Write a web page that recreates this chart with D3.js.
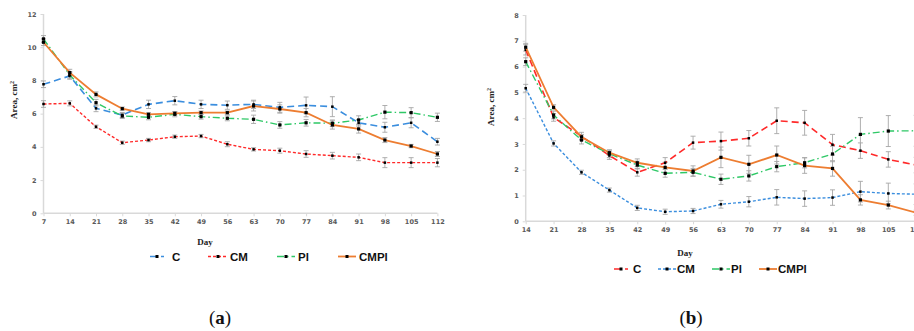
<!DOCTYPE html>
<html>
<head>
<meta charset="utf-8">
<script src="https://cdn.jsdelivr.net/npm/d3@7"></script>
<style>
  body { margin: 0; background: #fff; }
  svg { display: block; }
  .tick text { font-family: "DejaVu Sans", sans-serif; font-weight: bold; font-size: 6.5px; fill: #595959; }
  .axis-title { font-family: "Liberation Serif", serif; font-weight: bold; font-size: 9px; fill: #222; }
  .legend text { font-family: "Liberation Sans", sans-serif; font-weight: bold; font-size: 11.5px; fill: #111; }
  .caption { font-family: "Liberation Serif", serif; font-size: 19px; fill: #111; }
</style>
</head>
<body>
<svg id="chart" width="914" height="331"></svg>
<script>
// panel (a): days 7..112
const daysA = [7, 14, 21, 28, 35, 42, 49, 56, 63, 70, 77, 84, 91, 98, 105, 112];
const cA    = [7.77, 8.27, 6.32, 5.92, 6.56, 6.78, 6.56, 6.51, 6.56, 6.38, 6.50, 6.42, 5.45, 5.18, 5.45, 4.31];
const cmA   = [6.58, 6.62, 5.21, 4.25, 4.41, 4.61, 4.65, 4.16, 3.85, 3.77, 3.57, 3.47, 3.37, 3.05, 3.05, 3.05];
const plA   = [10.5, 8.33, 6.66, 5.86, 5.78, 5.96, 5.82, 5.72, 5.66, 5.32, 5.45, 5.42, 5.62, 6.09, 6.06, 5.78];
const cmplA = [10.3, 8.47, 7.16, 6.30, 5.96, 6.02, 6.06, 6.06, 6.46, 6.28, 6.06, 5.32, 5.08, 4.41, 4.05, 3.57];
const cAErr    = [0.2, 0.2, 0.2, 0.15, 0.25, 0.25, 0.25, 0.25, 0.25, 0.3, 0.5, 0.6, 0.2, 0.3, 0.3, 0.2];
const cmAErr   = [0.2, 0.15, 0.1, 0.1, 0.1, 0.1, 0.1, 0.15, 0.1, 0.15, 0.2, 0.2, 0.2, 0.3, 0.3, 0.25];
const plAErr   = [0.2, 0.2, 0.2, 0.15, 0.15, 0.15, 0.15, 0.15, 0.25, 0.2, 0.2, 0.2, 0.25, 0.4, 0.3, 0.25];
const cmplAErr = [0.2, 0.2, 0.15, 0.1, 0.1, 0.1, 0.1, 0.1, 0.3, 0.25, 0.25, 0.25, 0.25, 0.15, 0.1, 0.15];
const yTicksA = [0, 2, 4, 6, 8, 10, 12];

// panel (b): days 14..112
const daysB = [14, 21, 28, 35, 42, 49, 56, 63, 70, 77, 84, 91, 98, 105, 112];
const cB    = [6.65, 4.03, 3.30, 2.55, 1.90, 2.27, 3.05, 3.11, 3.22, 3.90, 3.82, 2.97, 2.74, 2.40, 2.18];
const cmB   = [5.16, 3.02, 1.90, 1.21, 0.52, 0.37, 0.40, 0.66, 0.76, 0.93, 0.88, 0.92, 1.15, 1.08, 1.05];
const plB   = [6.19, 4.12, 3.15, 2.62, 2.18, 1.86, 1.90, 1.63, 1.76, 2.12, 2.27, 2.61, 3.37, 3.50, 3.51];
const cmplB = [6.75, 4.42, 3.27, 2.66, 2.27, 2.09, 1.95, 2.48, 2.21, 2.57, 2.16, 2.05, 0.83, 0.63, 0.33];
const cBErr    = [0.2, 0.15, 0.15, 0.15, 0.15, 0.2, 0.25, 0.35, 0.3, 0.5, 0.48, 0.4, 0.3, 0.3, 0.3];
const cmBErr   = [0.15, 0.1, 0.08, 0.08, 0.1, 0.1, 0.1, 0.15, 0.2, 0.3, 0.3, 0.3, 0.4, 0.4, 0.4];
const plBErr   = [0.15, 0.15, 0.15, 0.15, 0.15, 0.15, 0.15, 0.2, 0.2, 0.2, 0.2, 0.3, 0.65, 0.6, 0.6];
const cmplBErr = [0.15, 0.1, 0.1, 0.1, 0.15, 0.2, 0.2, 0.4, 0.35, 0.35, 0.3, 0.3, 0.2, 0.15, 0.1];
const yTicksB = [0, 1, 2, 3, 4, 5, 6, 7, 8];

const legendNames = ['C', 'CM', 'Pl', 'CMPl'];

const blue = '#3b8ede', red = '#ff2a2a', green = '#2ec866', orange = '#ed7d31';
const dashLong = '7,4', dashShort = '3,2', dashDot = '7,3,1.5,3';

const svg = d3.select('#chart');

function drawPanel(p) {
  const x = d3.scalePoint().domain(p.days).range(p.xRange);
  const y = d3.scaleLinear().domain(p.yDomain).range(p.yRange);
  const g = svg.append('g');

  // Axes
  const xAxis = g.append('g')
    .attr('transform', `translate(0,${p.yRange[0]})`)
    .call(d3.axisBottom(x).tickSize(3).tickPadding(3));
  const yAxis = g.append('g')
    .attr('transform', `translate(${p.xRange[0]},0)`)
    .call(d3.axisLeft(y).tickValues(p.yTicks).tickSize(3).tickPadding(4));
  [xAxis, yAxis].forEach(a => {
    a.select('.domain').attr('stroke', '#d9d9d9').attr('stroke-width', 1.5);
    a.selectAll('.tick line').attr('stroke', '#d9d9d9');
  });
  // extend x axis line past the last day (panel b runs off the page)
  xAxis.select('.domain').attr('d', `M${p.xRange[0]},0H${p.xRange[1] + p.xExtra}`);
  yAxis.select('.domain').attr('d', `M0,${p.yRange[0]}V${p.yRange[1]}`);

  // Titles
  g.append('text').attr('class', 'axis-title')
    .attr('transform', `translate(${p.yTitle[0]},${p.yTitle[1]}) rotate(-90)`)
    .attr('text-anchor', 'middle')
    .html('Area, cm<tspan dy="-3" font-size="6">2</tspan>');
  g.append('text').attr('class', 'axis-title')
    .attr('x', p.dayPos[0]).attr('y', p.dayPos[1])
    .attr('text-anchor', 'middle').text('Day');

  const line = d3.line().x(d => x(d.day)).y(d => y(d.v));

  // Error bars first
  p.series.forEach(s => {
    const pts = p.days.map((day, i) => ({ day, v: s.values[i], e: s.err[i] }));
    const eb = g.append('g');
    eb.selectAll('path')
      .data(pts)
      .enter().append('path')
      .attr('d', d => {
        const cx = x(d.day), y1 = y(d.v + d.e), y2 = y(d.v - d.e);
        return `M${cx},${y1}V${y2}M${cx - 2.5},${y1}H${cx + 2.5}M${cx - 2.5},${y2}H${cx + 2.5}`;
      })
      .attr('stroke', '#a6a6a6')
      .attr('stroke-width', 0.9)
      .attr('fill', 'none');
  });

  // Lines and markers
  p.series.forEach(s => {
    const pts = p.days.map((day, i) => ({ day, v: s.values[i] }));
    g.append('path')
      .datum(pts)
      .attr('d', line)
      .attr('fill', 'none')
      .attr('stroke', s.color)
      .attr('stroke-width', s.width)
      .attr('stroke-dasharray', s.dash);
    g.selectAll(null)
      .data(pts)
      .enter().append('rect')
      .attr('x', d => x(d.day) - s.mark / 2)
      .attr('y', d => y(d.v) - s.mark / 2)
      .attr('width', s.mark)
      .attr('height', s.mark)
      .attr('fill', '#000');
  });

  // Legend
  const lg = g.append('g').attr('class', 'legend');
  p.series.forEach((s, i) => {
    const [x0, x1, tx] = p.legendX[i];
    const ly = p.legendY;
    lg.append('line')
      .attr('x1', x0).attr('x2', x1).attr('y1', ly).attr('y2', ly)
      .attr('stroke', s.color).attr('stroke-width', s.width)
      .attr('stroke-dasharray', s.dash);
    lg.append('rect')
      .attr('x', (x0 + x1) / 2 - 1.5).attr('y', ly - 1.5)
      .attr('width', 3).attr('height', 3).attr('fill', '#000');
    lg.append('text')
      .attr('x', tx).attr('y', ly + 4)
      .text(legendNames[i]);
  });

  // Caption
  svg.append('text').attr('class', 'caption')
    .attr('x', p.caption[0]).attr('y', p.caption[1])
    .attr('text-anchor', 'middle')
    .html(`(<tspan font-weight="bold">${p.letter}</tspan>)`);
}

drawPanel({
  days: daysA, xRange: [43.5, 437.4], xExtra: 0,
  yDomain: [0, 12], yRange: [213.3, 14], yTicks: yTicksA,
  yTitle: [17, 100], dayPos: [205, 245],
  series: [
    { values: cA, err: cAErr, color: blue, dash: dashLong, width: 1.6, mark: 2.5 },
    { values: cmA, err: cmAErr, color: red, dash: dashShort, width: 1.4, mark: 2.5 },
    { values: plA, err: plAErr, color: green, dash: dashDot, width: 1.4, mark: 3.2 },
    { values: cmplA, err: cmplAErr, color: orange, dash: null, width: 1.8, mark: 3.2 }
  ],
  legendX: [[150, 164, 172], [208, 228, 230], [277, 295, 298], [338, 356, 359]],
  legendY: 256.5,
  caption: [220, 324], letter: 'a'
});

drawPanel({
  days: daysB, xRange: [525.7, 916.2], xExtra: 10,
  yDomain: [0, 8], yRange: [221.3, 15], yTicks: yTicksB,
  yTitle: [494, 107], dayPos: [685, 256],
  series: [
    { values: cB, err: cBErr, color: red, dash: dashLong, width: 1.6, mark: 2.5 },
    { values: cmB, err: cmBErr, color: blue, dash: dashShort, width: 1.4, mark: 2.5 },
    { values: plB, err: plBErr, color: green, dash: dashDot, width: 1.4, mark: 3.2 },
    { values: cmplB, err: cmplBErr, color: orange, dash: null, width: 1.8, mark: 3.2 }
  ],
  legendX: [[614, 628, 633], [658, 676, 677], [712, 730, 731], [759, 777, 778]],
  legendY: 269,
  caption: [691, 324], letter: 'b'
});
</script>
</body>
</html>
